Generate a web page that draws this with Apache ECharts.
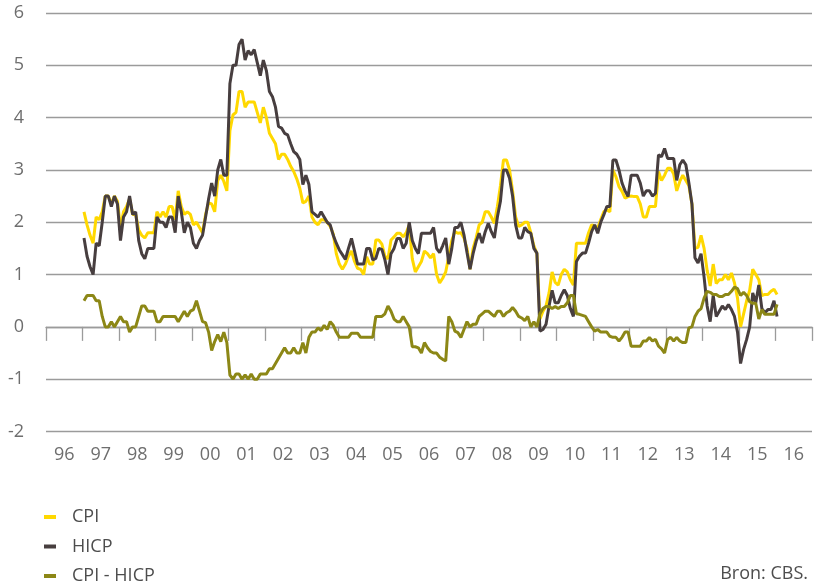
<!DOCTYPE html>
<html>
<head>
<meta charset="UTF-8">
<title>CPI en HICP</title>
<script src="https://cdn.jsdelivr.net/npm/echarts@6/dist/echarts.min.js"></script>
<style>
  html, body { margin: 0; padding: 0; background: #fff; }
  #chart { width: 816px; height: 587px; }
</style>
</head>
<body>
<div id="chart"></div>
<script>
// year labels under the axis
var years = ['96','97','98','99','00','01','02','03','04','05','06','07','08','09','10','11','12','13','14','15','16'];

// monthly values, Jan 1997 .. Jan 2016 (% y/y)
var firstMonth = 12; // months counted from Jan 1996

var cpi = [
  2.2, 1.95, 1.75, 1.6, 2.1, 2.05, 2.2, 2.5, 2.5, 2.35, 2.5, 2.4,      // 1997
  1.9, 2.2, 2.3, 2.45, 2.15, 2.15, 1.85, 1.75, 1.7, 1.8, 1.8, 1.8,     // 1998
  2.2, 2.1, 2.2, 2.1, 2.3, 2.3, 2.05, 2.6, 2.3, 2.15, 2.2, 2.15,      // 1999
  1.95, 2.0, 1.9, 1.8, 2.15, 2.37, 2.35, 2.2, 2.8, 2.9, 2.78, 2.6,    // 2000
  3.75, 4.05, 4.1, 4.5, 4.5, 4.2, 4.3, 4.3, 4.3, 4.1, 3.9, 4.2,       // 2001
  4.0, 3.7, 3.6, 3.5, 3.2, 3.3, 3.3, 3.2, 3.07, 2.97, 2.83, 2.65,     // 2002
  2.37, 2.4, 2.5, 2.1, 2.0, 1.95, 2.05, 2.05, 2.0, 1.92, 1.78, 1.4,   // 2003
  1.2, 1.1, 1.2, 1.35, 1.45, 1.25, 1.12, 1.1, 1.0, 1.34, 1.2, 1.2,    // 2004
  1.66, 1.66, 1.58, 1.35, 1.3, 1.66, 1.72, 1.79, 1.79, 1.72, 1.8, 1.95, // 2005
  1.3, 1.05, 1.15, 1.25, 1.45, 1.4, 1.32, 1.4, 1.0, 0.84, 0.93, 1.05, // 2006
  1.35, 1.65, 1.82, 1.79, 1.8, 1.7, 1.5, 1.1, 1.5, 1.7, 1.95, 2.0,    // 2007
  2.2, 2.2, 2.1, 1.98, 2.3, 2.7, 3.19, 3.19, 3.0, 2.6, 2.1, 1.92,     // 2008
  1.95, 2.0, 2.0, 1.8, 1.55, 1.4, 0.15, 0.3, 0.4, 0.65, 1.05, 0.85,   // 2009
  0.8, 1.0, 1.1, 1.05, 0.9, 0.8, 1.6, 1.6, 1.6, 1.6, 1.8, 1.95,       // 2010
  1.93, 1.89, 2.05, 2.2, 2.24, 2.2, 3.0, 2.87, 2.68, 2.59, 2.46, 2.49, // 2011
  2.5, 2.49, 2.49, 2.35, 2.1, 2.1, 2.3, 2.3, 2.3, 2.97, 2.8, 2.9,     // 2012
  3.03, 3.03, 2.92, 2.6, 2.78, 2.9, 2.8, 2.7, 2.35, 1.5, 1.52, 1.75,  // 2013
  1.5, 1.08, 0.78, 1.2, 0.83, 0.9, 0.9, 1.0, 0.9, 1.03, 0.84, 0.55,   // 2014
  0.0, 0.25, 0.5, 0.7, 1.1, 1.0, 0.9, 0.6, 0.62, 0.62, 0.68, 0.72,    // 2015
  0.62                                                                 // 2016
];

var hicp = [
  1.7, 1.35, 1.15, 1.0, 1.6, 1.55, 2.0, 2.5, 2.5, 2.3, 2.5, 2.35,     // 1997
  1.65, 2.1, 2.2, 2.5, 2.15, 2.2, 1.65, 1.4, 1.3, 1.5, 1.5, 1.5,      // 1998
  2.1, 2.0, 2.0, 1.9, 2.1, 2.1, 1.8, 2.5, 2.2, 1.8, 2.0, 1.9,         // 1999
  1.6, 1.5, 1.65, 1.75, 2.1, 2.45, 2.75, 2.5, 3.0, 3.2, 2.9, 2.9,     // 2000
  4.65, 5.0, 5.0, 5.4, 5.5, 5.1, 5.28, 5.2, 5.3, 5.05, 4.8, 5.1,      // 2001
  4.9, 4.5, 4.4, 4.2, 3.83, 3.8, 3.7, 3.67, 3.5, 3.35, 3.3, 3.2,      // 2002
  2.72, 2.9, 2.72, 2.2, 2.15, 2.1, 2.2, 2.1, 2.0, 1.95, 1.75, 1.6,    // 2003
  1.47, 1.38, 1.29, 1.5, 1.69, 1.45, 1.2, 1.2, 1.2, 1.5, 1.5, 1.28,   // 2004
  1.31, 1.5, 1.48, 1.28, 1.0, 1.4, 1.5, 1.69, 1.69, 1.5, 1.6, 2.0,    // 2005
  1.65, 1.5, 1.4, 1.79, 1.79, 1.79, 1.79, 1.9, 1.5, 1.42, 1.55, 1.7,  // 2006
  1.2, 1.5, 1.9, 1.9, 2.0, 1.76, 1.42, 1.1, 1.4, 1.63, 1.79, 1.6,     // 2007
  1.82, 1.98, 1.82, 1.7, 2.1, 2.4, 3.0, 3.0, 2.84, 2.5, 1.95, 1.7,    // 2008
  1.7, 1.9, 1.82, 1.79, 1.5, 1.41, -0.08, -0.05, 0.05, 0.4, 0.7, 0.46, // 2009
  0.46, 0.6, 0.71, 0.6, 0.35, 0.2, 1.25, 1.35, 1.41, 1.41, 1.6, 1.82, // 2010
  1.95, 1.79, 2.0, 2.14, 2.3, 2.3, 3.19, 3.19, 3.0, 2.75, 2.6, 2.49,  // 2011
  2.9, 2.9, 2.9, 2.75, 2.5, 2.6, 2.6, 2.5, 2.55, 3.29, 3.25, 3.41,    // 2012
  3.22, 3.22, 3.22, 2.8, 3.1, 3.19, 3.1, 2.75, 2.35, 1.32, 1.22, 1.4, // 2013
  0.95, 0.4, 0.1, 0.6, 0.2, 0.3, 0.4, 0.33, 0.43, 0.33, 0.2, -0.1,    // 2014
  -0.7, -0.43, -0.24, 0.0, 0.65, 0.46, 0.8, 0.35, 0.27, 0.33, 0.33, 0.5, // 2015
  0.2                                                                  // 2016
];

var cpiMinusHicp = [
  0.5, 0.6, 0.6, 0.6, 0.5, 0.5, 0.2, 0.0, 0.0, 0.1, 0.0, 0.1,         // 1997
  0.2, 0.1, 0.1, -0.1, 0.0, 0.0, 0.2, 0.4, 0.4, 0.3, 0.3, 0.3,        // 1998
  0.1, 0.1, 0.2, 0.2, 0.2, 0.2, 0.2, 0.1, 0.2, 0.3, 0.2, 0.3,         // 1999
  0.33, 0.5, 0.3, 0.1, 0.08, -0.1, -0.45, -0.28, -0.15, -0.28, -0.1, -0.3, // 2000
  -0.92, -1.0, -0.9, -0.9, -1.0, -0.92, -1.0, -0.9, -1.0, -1.0, -0.9, -0.9, // 2001
  -0.9, -0.8, -0.8, -0.7, -0.6, -0.5, -0.4, -0.5, -0.5, -0.4, -0.5, -0.5,   // 2002
  -0.3, -0.5, -0.2, -0.1, -0.1, -0.02, -0.07, 0.03, -0.05, 0.1, 0.03, -0.1, // 2003
  -0.2, -0.2, -0.2, -0.2, -0.12, -0.12, -0.12, -0.2, -0.2, -0.2, -0.2, -0.2, // 2004
  0.2, 0.2, 0.2, 0.25, 0.4, 0.3, 0.15, 0.1, 0.1, 0.2, 0.1, 0.0,       // 2005
  -0.38, -0.38, -0.4, -0.5, -0.3, -0.4, -0.47, -0.5, -0.5, -0.58, -0.62, -0.65, // 2006
  0.2, 0.1, -0.08, -0.11, -0.2, -0.05, 0.1, 0.0, 0.05, 0.05, 0.2, 0.25, // 2007
  0.3, 0.3, 0.25, 0.2, 0.3, 0.3, 0.2, 0.27, 0.3, 0.37, 0.3, 0.2,      // 2008
  0.17, 0.12, 0.2, 0.0, 0.1, 0.0, 0.25, 0.35, 0.39, 0.39, 0.35, 0.39, // 2009
  0.35, 0.39, 0.39, 0.46, 0.6, 0.6, 0.25, 0.24, 0.22, 0.2, 0.1, 0.0,  // 2010
  -0.08, -0.05, -0.1, -0.1, -0.1, -0.18, -0.2, -0.2, -0.27, -0.2, -0.1, -0.1, // 2011
  -0.37, -0.37, -0.37, -0.37, -0.27, -0.27, -0.2, -0.27, -0.24, -0.37, -0.42, -0.5, // 2012
  -0.24, -0.2, -0.27, -0.2, -0.27, -0.3, -0.3, -0.02, 0.0, 0.2, 0.3, 0.35, // 2013
  0.55, 0.68, 0.66, 0.62, 0.62, 0.58, 0.58, 0.62, 0.62, 0.68, 0.76, 0.73, // 2014
  0.6, 0.66, 0.6, 0.48, 0.45, 0.45, 0.15, 0.33, 0.24, 0.24, 0.24, 0.24, // 2015
  0.43                                                                 // 2016
];

// value pairs placed in the middle of each month
function monthly(values) {
  return values.map(function (v, i) { return [firstMonth + i + 0.5, v]; });
}

var font = "'Open Sans', 'Noto Sans', sans-serif";
var gridGray = '#9b9b9b';

var myChart = echarts.init(document.getElementById('chart'));
var option = {
  animation: false,
  backgroundColor: '#ffffff',
  textStyle: { fontFamily: font },
  grid: { left: 46, right: 4, top: 13, bottom: 155.5, containLabel: false },
  legend: {
    orient: 'vertical',
    left: 44,
    top: 508,
    height: 79,
    padding: 0,
    itemWidth: 12,
    itemHeight: 4,
    itemGap: 11.5,
    icon: 'rect',
    textStyle: { fontSize: 18, lineHeight: 18, color: '#4d4d4d', fontFamily: font, padding: [0, 0, 0, 11] },
    data: ['CPI', 'HICP', 'CPI - HICP']
  },
  graphic: [{
    type: 'text',
    right: 8,
    top: 565,
    style: { text: 'Bron: CBS.', fontSize: 18, fill: '#4d4d4d', fontFamily: font }
  }],
  xAxis: [
    {
      // month scale; axis line sits on zero with ticks every year
      type: 'value',
      min: 0,
      max: years.length * 12,
      interval: 12,
      position: 'bottom',
      axisLine: { onZero: true, lineStyle: { color: gridGray, width: 1.3 } },
      axisTick: { show: true, length: 14, lineStyle: { color: gridGray, width: 1.3 } },
      axisLabel: { show: false },
      splitLine: { show: false }
    },
    {
      // year names centred between the ticks
      type: 'category',
      data: years,
      position: 'bottom',
      boundaryGap: true,
      axisLine: { show: false, onZero: false },
      axisTick: { show: false },
      axisLabel: { margin: 14, fontSize: 18, color: '#6e6e6e', fontFamily: font },
      splitLine: { show: false }
    }
  ],
  yAxis: {
    type: 'value',
    min: -2,
    max: 6,
    interval: 1,
    axisLine: { show: false },
    axisTick: { show: false },
    axisLabel: { margin: 22, fontSize: 18, color: '#6e6e6e', fontFamily: font },
    splitLine: { lineStyle: { color: gridGray, width: 1.3 } }
  },
  series: [
    {
      name: 'CPI',
      type: 'line',
      xAxisIndex: 0,
      showSymbol: false,
      symbol: 'none',
      color: '#ffd800',
      lineStyle: { width: 3, color: '#ffd800' },
      data: monthly(cpi)
    },
    {
      name: 'HICP',
      type: 'line',
      xAxisIndex: 0,
      showSymbol: false,
      symbol: 'none',
      color: '#473e3f',
      lineStyle: { width: 3, color: '#473e3f' },
      data: monthly(hicp)
    },
    {
      name: 'CPI - HICP',
      type: 'line',
      xAxisIndex: 0,
      showSymbol: false,
      symbol: 'none',
      color: '#8c8716',
      lineStyle: { width: 3, color: '#8c8716' },
      data: monthly(cpiMinusHicp)
    }
  ]
};
myChart.setOption(option);
window.addEventListener('resize', function () {
  myChart.resize();
});
</script>
</body>
</html>
